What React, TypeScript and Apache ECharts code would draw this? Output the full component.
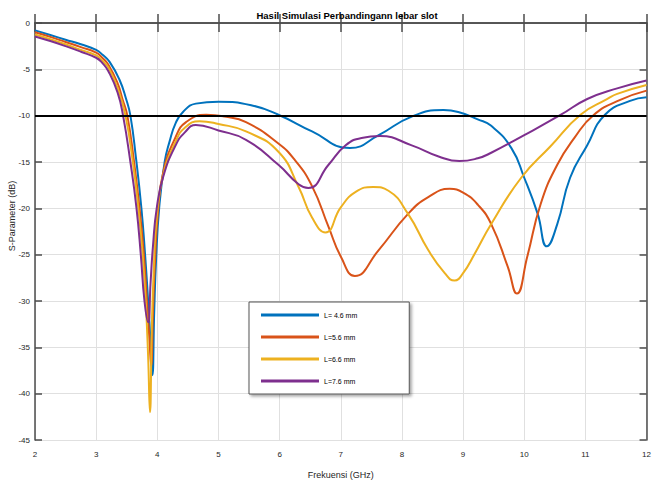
import React, { useEffect, useRef } from "react";
import * as echarts from "echarts";

const chartTitle = "Hasil Simulasi Perbandingann lebar slot";
const xName = "Frekuensi (GHz)";
const yName = "S-Parameter (dB)";
const seriesNames = ["L= 4.6 mm", "L=5.6 mm", "L=6.6 mm", "L=7.6 mm"];
const seriesColors = ["#0072BD", "#D95319", "#EDB120", "#7E2F8E"];
const threshold = -10;

const l46Freq = [2, 2.25, 2.5, 2.75, 3, 3.1, 3.22, 3.38, 3.49, 3.56, 3.65, 3.74, 3.8, 3.85, 3.89, 3.92, 3.95, 3.98, 4.03, 4.12, 4.2, 4.3, 4.42, 4.63, 5.0, 5.55, 5.98, 6.53, 7.15, 7.62, 8.16, 8.68, 8.92, 9.24, 9.46, 9.79, 10.0, 10.22, 10.37, 10.54, 10.75, 11.03, 11.32, 11.73, 12];
const l46Db = [-0.8, -1.3, -1.8, -2.3, -2.9, -3.4, -4.2, -6.1, -8.2, -10, -14.5, -20, -25, -30, -34.5, -38, -31, -25.5, -20, -15, -12.8, -10.8, -9.6, -8.7, -8.5, -8.9, -9.9, -11.7, -13.5, -12.1, -10.1, -9.4, -9.6, -10.4, -11.1, -13.5, -16.7, -20.6, -24.1, -21.7, -16.7, -13.2, -9.9, -8.4, -8.0];

const l56Freq = [2, 2.25, 2.5, 2.75, 3, 3.1, 3.2, 3.35, 3.43, 3.51, 3.62, 3.71, 3.78, 3.83, 3.87, 3.9, 3.93, 3.96, 4.01, 4.1, 4.3, 4.47, 4.8, 5.1, 5.45, 5.98, 6.25, 6.53, 6.8, 7.0, 7.23, 7.62, 8.1, 8.43, 8.78, 9.0, 9.24, 9.46, 9.73, 9.88, 10.05, 10.27, 10.54, 10.82, 11.14, 11.57, 12];
const l56Db = [-1.0, -1.5, -2.05, -2.6, -3.2, -3.75, -4.5, -6.5, -8.2, -10, -15, -20, -25, -30, -34, -37, -31, -26, -20.5, -16, -12.3, -10.7, -9.9, -10.1, -10.7, -13.0, -14.8, -17.6, -22.0, -25.2, -27.3, -24.5, -20.6, -18.8, -17.9, -18.3, -19.6, -21.7, -26.3, -29.2, -25.2, -19.5, -15.3, -12.4, -9.9, -8.3, -7.3];

const l66Freq = [2, 2.25, 2.5, 2.75, 3, 3.1, 3.2, 3.35, 3.48, 3.6, 3.69, 3.76, 3.81, 3.85, 3.88, 3.91, 3.94, 3.99, 4.1, 4.3, 4.45, 4.69, 5.0, 5.45, 5.98, 6.31, 6.53, 6.75, 7.0, 7.25, 7.53, 7.78, 8.1, 8.43, 8.7, 8.86, 9.0, 9.19, 9.46, 9.95, 10.43, 10.92, 11.36, 11.52, 12];
const l66Db = [-1.25, -1.75, -2.3, -2.9, -3.5, -4.05, -4.8, -7.0, -10, -15, -20, -25, -30, -36, -42, -33, -27, -21, -16.3, -12.8, -11.3, -10.6, -10.9, -11.7, -13.9, -17.7, -21.0, -22.6, -19.9, -18.2, -17.7, -18.1, -20.6, -24.5, -27.0, -27.8, -27.0, -24.9, -21.7, -16.7, -13.3, -9.9, -8.2, -7.65, -6.7];

const l76Freq = [2, 2.25, 2.5, 2.75, 3, 3.1, 3.2, 3.35, 3.44, 3.56, 3.66, 3.73, 3.79, 3.85, 3.89, 3.93, 3.99, 4.1, 4.3, 4.45, 4.63, 5.0, 5.45, 5.98, 6.31, 6.47, 6.8, 7.08, 7.34, 7.64, 8.16, 8.6, 8.94, 9.24, 9.46, 10.0, 10.6, 11.03, 11.52, 12];
const l76Db = [-1.45, -1.95, -2.5, -3.1, -3.75, -4.3, -5.2, -7.5, -10, -15, -20, -25, -30, -32.3, -28, -24, -20, -16.5, -13.2, -11.8, -11.0, -11.6, -12.6, -15.3, -17.4, -17.8, -15.3, -13.2, -12.4, -12.2, -13.2, -14.4, -14.9, -14.6, -14.0, -12.1, -9.9, -8.2, -7.05, -6.2];

const freqs = [l46Freq, l56Freq, l66Freq, l76Freq];
const dbs = [l46Db, l56Db, l66Db, l76Db];

const narrow = "'Liberation Sans Narrow', 'Liberation Sans', Arial, sans-serif";
const axisColor = "#4d4d4d";

export default function App() {
  const ref = useRef<HTMLDivElement>(null);
  useEffect(() => {
    if (!ref.current) return;
    const chart = echarts.init(ref.current, undefined, { renderer: "svg" });
    const series: any[] = seriesNames.map((name, i) => ({
      name,
      type: "line",
      data: freqs[i].map((f, j) => [f, dbs[i][j]]),
      showSymbol: false,
      symbol: "none",
      smooth: 0.5,
      lineStyle: { color: seriesColors[i], width: 2 },
      itemStyle: { color: seriesColors[i] },
      z: 3,
    }));
    series[0].markLine = {
      silent: true,
      symbol: "none",
      label: { show: false },
      lineStyle: { color: "#000", width: 2, type: "solid" },
      data: [{ yAxis: threshold }],
      z: 5,
    };
    const baseX = {
      type: "value",
      min: 2,
      max: 12,
      interval: 1,
    };
    const baseY = {
      type: "value",
      min: -45,
      max: 0,
      interval: 5,
    };
    chart.setOption({
      animation: false,
      backgroundColor: "#ffffff",
      title: {
        text: chartTitle,
        left: 342,
        top: 5,
        textAlign: "center",
        textStyle: { fontSize: 9.5, fontWeight: "bold", color: "#000", fontFamily: narrow },
      },
      grid: { left: 35, right: 4, top: 23, bottom: 40 },
      legend: {
        orient: "vertical",
        left: 249,
        top: 302,
        data: seriesNames,
        icon: "rect",
        itemWidth: 58,
        itemHeight: 3,
        itemGap: 12,
        padding: [8, 52, 8, 12],
        backgroundColor: "#ffffff",
        borderColor: "#555",
        borderWidth: 1,
        shadowBlur: 3,
        shadowColor: "rgba(0,0,0,0.35)",
        shadowOffsetX: 2,
        shadowOffsetY: 2,
        textStyle: { fontSize: 7, lineHeight: 10, color: "#000", fontFamily: narrow },
      },
      xAxis: [
        {
          ...baseX,
          position: "bottom",
          name: xName,
          nameLocation: "middle",
          nameGap: 30,
          nameTextStyle: { fontSize: 9, color: "#262626", fontFamily: narrow },
          axisLine: { show: true, lineStyle: { color: axisColor, width: 1.5 } },
          axisTick: { show: true, inside: true, length: 9, lineStyle: { color: axisColor, width: 1.5 } },
          axisLabel: { fontSize: 8, color: "#262626", margin: 10, fontFamily: narrow },
          splitLine: { show: true, lineStyle: { color: "#e0e0e0", width: 1 } },
        },
        {
          ...baseX,
          position: "top",
          axisLine: { show: true, onZero: false, lineStyle: { color: axisColor, width: 1.5 } },
          axisTick: { show: true, inside: true, length: 9, lineStyle: { color: axisColor, width: 1.5 } },
          axisLabel: { show: false },
          splitLine: { show: false },
        },
      ],
      yAxis: [
        {
          ...baseY,
          position: "left",
          axisLine: { show: true, onZero: false, lineStyle: { color: axisColor, width: 1.5 } },
          axisTick: { show: true, inside: true, length: 7, lineStyle: { color: axisColor, width: 1.5 } },
          axisLabel: { fontSize: 8, color: "#262626", margin: 5, fontFamily: narrow },
          splitLine: { show: true, lineStyle: { color: "#e0e0e0", width: 1 } },
        },
        {
          ...baseY,
          position: "right",
          axisLine: { show: true, onZero: false, lineStyle: { color: axisColor, width: 1.5 } },
          axisTick: { show: true, inside: true, length: 7, lineStyle: { color: axisColor, width: 1.5 } },
          axisLabel: { show: false },
          splitLine: { show: false },
        },
      ],
      graphic: [
        {
          type: "text",
          x: 12,
          y: 216,
          rotation: Math.PI / 2,
          style: {
            text: yName,
            fontSize: 9,
            fill: "#262626",
            fontFamily: narrow,
            textAlign: "center",
            textVerticalAlign: "middle",
          },
        },
      ],
      series,
    });
    return () => chart.dispose();
  }, []);
  return (
    <div
      ref={ref}
      style={{ position: "fixed", left: 0, top: 0, width: 654, height: 484, background: "#fff" }}
    />
  );
}
